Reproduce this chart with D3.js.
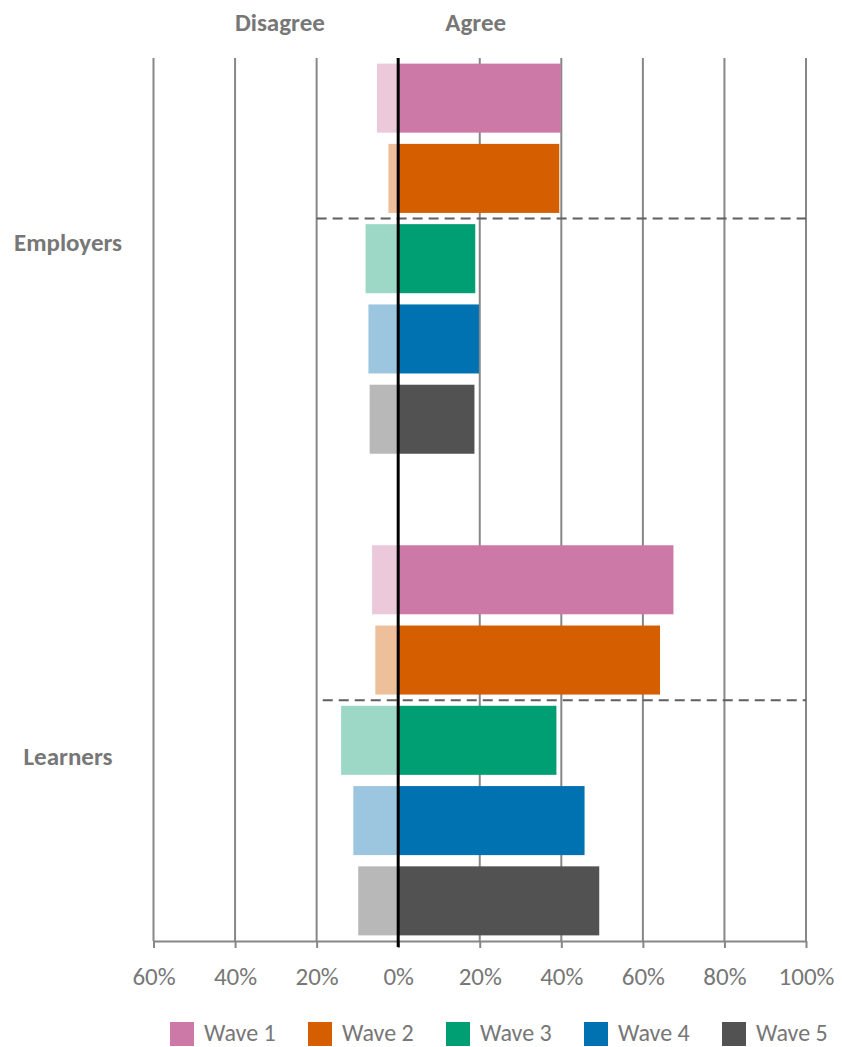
<!DOCTYPE html>
<html>
<head>
<meta charset="utf-8">
<script src="https://cdn.jsdelivr.net/npm/d3@7"></script>
<style>
  body { margin: 0; background: #fff; }
  text { font-family: Carlito, Calibri, Lato, "Open Sans", sans-serif; }
</style>
</head>
<body>
<svg id="chart" width="842" height="1047"></svg>
<script>
// ---- data (percent of respondents) ----
const groups = ["Employers", "Learners"];
const waves = ["Wave 1", "Wave 2", "Wave 3", "Wave 4", "Wave 5"];
const employersAgree    = [39.9, 39.5, 18.9, 19.8, 18.7];
const employersDisagree = [5.2, 2.4, 8.0, 7.3, 7.0];
const learnersAgree     = [67.5, 64.2, 38.8, 45.7, 49.3];
const learnersDisagree  = [6.4, 5.6, 14.0, 11.0, 9.8];
const tickValues = [-60, -40, -20, 0, 20, 40, 60, 80, 100];
const sideHeaders = ["Disagree", "Agree"];

// ---- styling ----
const waveColours = ["#CC79A7", "#D55E00", "#009E73", "#0072B2", "#525252"];
const waveLight   = ["#EBC9DB", "#EDBF9A", "#9DD8C7", "#9CC6DF", "#B8B8B8"];
const gridGrey = "#878787";
const textGrey = "#777777";

const agreeBy = { Employers: employersAgree, Learners: learnersAgree };
const disagreeBy = { Employers: employersDisagree, Learners: learnersDisagree };

// one row per wave, with an empty spacer row between the two groups
const rowKeys = [];
groups.forEach((g, gi) => {
  if (gi > 0) rowKeys.push("spacer-" + gi);
  waves.forEach(w => rowKeys.push(g + "|" + w));
});

const rows = [];
groups.forEach(g => waves.forEach((w, wi) => rows.push({
  group: g, wave: w, wi, key: g + "|" + w,
  agree: agreeBy[g][wi], disagree: disagreeBy[g][wi]
})));

const svg = d3.select("#chart");
const plotTop = 58, plotBottom = 941;

const x = d3.scaleLinear().domain([-60, 100]).range([153.5, 806]);
const y = d3.scaleBand().domain(rowKeys).range([plotTop, plotBottom])
  .paddingInner(0.14).paddingOuter(0.07);

// vertical gridlines
svg.append("g").selectAll("line").data(tickValues.filter(d => d !== 0)).join("line")
  .attr("x1", d => x(d)).attr("x2", d => x(d))
  .attr("y1", plotTop).attr("y2", plotBottom)
  .attr("stroke", gridGrey).attr("stroke-width", 2);

// disagree bars (left of zero)
svg.append("g").selectAll("rect").data(rows).join("rect")
  .attr("x", d => x(-d.disagree))
  .attr("width", d => x(0) - x(-d.disagree))
  .attr("y", d => y(d.key))
  .attr("height", y.bandwidth())
  .attr("fill", d => waveLight[d.wi]);

// agree bars (right of zero)
svg.append("g").selectAll("rect").data(rows).join("rect")
  .attr("x", x(0))
  .attr("width", d => x(d.agree) - x(0))
  .attr("y", d => y(d.key))
  .attr("height", y.bandwidth())
  .attr("fill", d => waveColours[d.wi]);

// dashed dividers between waves 1-2 and waves 3-5
const dividerFrom = [-20, -18.5];
const gapHalf = y.step() * y.paddingInner() / 2;
svg.append("g").selectAll("line").data(groups).join("line")
  .attr("x1", (g, i) => x(dividerFrom[i]))
  .attr("x2", x(100))
  .attr("y1", g => y(g + "|" + waves[2]) - gapHalf)
  .attr("y2", g => y(g + "|" + waves[2]) - gapHalf)
  .attr("stroke", "#5f5f5f").attr("stroke-width", 2)
  .attr("stroke-dasharray", "10,6");

// x axis
const axis = svg.append("g").attr("transform", `translate(0,${plotBottom})`)
  .call(d3.axisBottom(x).tickValues(tickValues)
    .tickFormat(d => Math.abs(d) + "%").tickSize(7).tickSizeOuter(0));
axis.select(".domain").attr("stroke", gridGrey).attr("stroke-width", 2);
axis.selectAll(".tick line").attr("stroke", gridGrey).attr("stroke-width", 2);
axis.selectAll(".tick text")
  .attr("y", 35).attr("dy", "0.35em")
  .attr("fill", textGrey).attr("font-size", 25);

// zero line
svg.append("line")
  .attr("x1", x(0)).attr("x2", x(0))
  .attr("y1", plotTop).attr("y2", plotBottom + 6)
  .attr("stroke", "#000").attr("stroke-width", 3);

// side headers
const headerAt = [-29, 19];
svg.append("g").selectAll("text").data(sideHeaders).join("text")
  .attr("x", (d, i) => x(headerAt[i])).attr("y", 22).attr("dy", "0.35em")
  .attr("text-anchor", "middle").attr("font-weight", "bold")
  .attr("font-size", 25).attr("fill", textGrey)
  .text(d => d);

// group labels
const labelSlot = [2.3, 8.7];
svg.append("g").selectAll("text").data(groups).join("text")
  .attr("x", 68)
  .attr("y", (g, i) => plotTop + y.step() * labelSlot[i])
  .attr("dy", "0.35em")
  .attr("text-anchor", "middle").attr("font-weight", "bold")
  .attr("font-size", 25).attr("fill", textGrey)
  .text(d => d);

// legend
const legendX = d3.scalePoint().domain(waves).range([170, 722]);
const leg = svg.append("g").selectAll("g").data(waves).join("g")
  .attr("transform", d => `translate(${legendX(d)},1022)`);
leg.append("rect").attr("width", 24).attr("height", 24)
  .attr("fill", (d, i) => waveColours[i]);
leg.append("text").attr("x", 34).attr("y", 19)
  .attr("font-size", 24).attr("fill", textGrey).text(d => d);
</script>
</body>
</html>
